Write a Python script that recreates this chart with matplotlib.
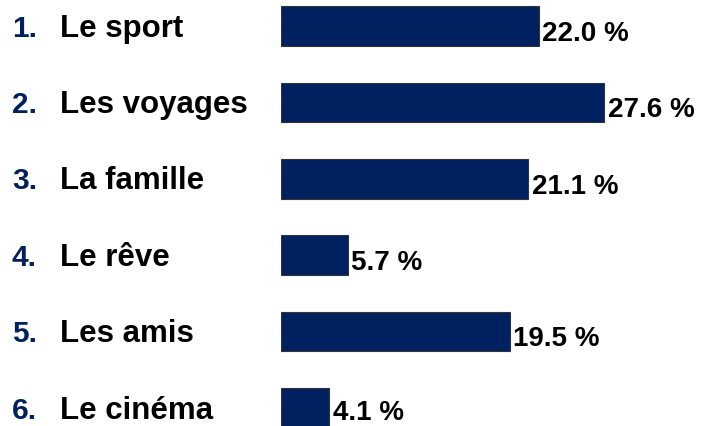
import matplotlib.pyplot as plt
import matplotlib.transforms as mtransforms

plt.rcParams['font.family'] = ['Liberation Sans', 'DejaVu Sans']

RANKS = ['1.', '2.', '3.', '4.', '5.', '6.']
CATEGORIES = ['Le sport', 'Les voyages', 'La famille', 'Le rêve', 'Les amis', 'Le cinéma']
VALUES = [22.0, 27.6, 21.1, 5.7, 19.5, 4.1]

NAVY = '#002060'
W, H = 705, 427


def draw():
    fig = plt.figure(figsize=(W / 100, H / 100), dpi=100)
    x0 = 281
    ax = fig.add_axes([x0 / W, 0, 1 - x0 / W, 1])
    ax.set_xlim(0, (W - x0) / 11.72)
    ax.set_ylim(5 + (H - 409) / 76.4, -27 / 76.4)
    ax.axis('off')

    ypos = list(range(len(VALUES)))
    ax.barh(ypos, VALUES, height=0.52, color=NAVY, edgecolor='#333333', linewidth=0.8)

    trans = mtransforms.blended_transform_factory(fig.transFigure, ax.transData)
    for i, (rank, cat, val) in enumerate(zip(RANKS, CATEGORIES, VALUES)):
        ax.text(12 / W, i + 0.02, rank, transform=trans, color=NAVY, fontsize=21.5,
                fontweight='bold', va='center', ha='left')
        ax.text(60 / W, i + 0.02, cat, transform=trans, color='black', fontsize=22.5,
                fontweight='bold', va='center', ha='left')
        # last label sits close to the bottom edge, lift it a touch
        dy = 0.09 if i < len(VALUES) - 1 else 0.05
        ax.text(val + 0.3, i + dy, f'{val:.1f} %', color='black', fontsize=20,
                fontweight='bold', va='center', ha='left', clip_on=False)

    fig.savefig('out.png', dpi=100)


draw()
